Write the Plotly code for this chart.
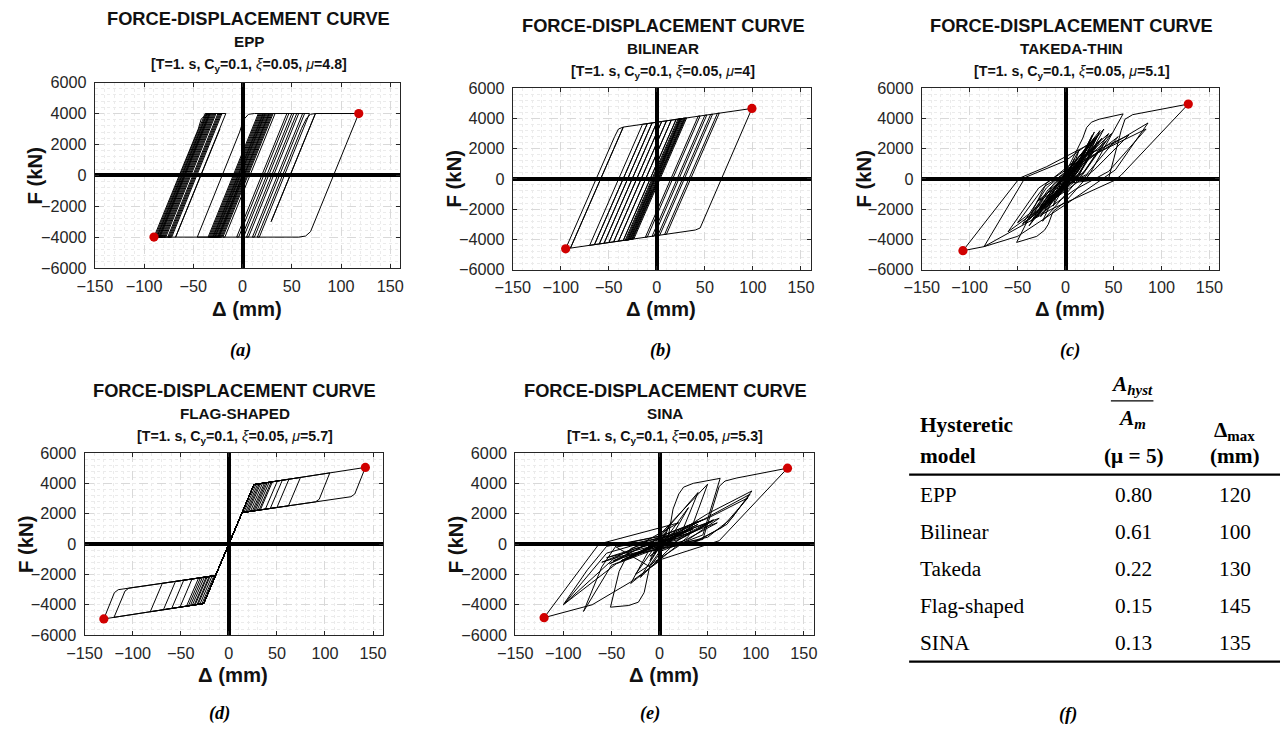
import plotly.graph_objects as go

W, H = 1284, 731
SANS = "Liberation Sans, Arial, Helvetica, sans-serif"
SERIF = "Liberation Serif, Times New Roman, serif"

# ---------------- hysteresis traces: (displacement mm, force kN) vertices ----------------
epp_path = [
    (0, 0), (-25, -4000), (-46, -4000), (-3, 2800), (1, 3600), (6, 3950), (12, 4000),
    (28, 4000), (-23, -4000), (-30, -4000), (21, 4000), (24, 4000),
    (-27, -4000), (-34, -4000), (17, 4000), (22, 4000), (-29, -4000), (-32, -4000),
    (19, 4000), (26, 4000), (-25, -4000), (-28, -4000), (23, 4000), (30, 4000),
    (-21, -4000), (-24, -4000), (27, 4000), (29, 4000), (-22, -4000), (-26, -4000),
    (25, 4000), (27, 4000), (-24, -4000), (-31, -4000), (20, 4000), (23, 4000),
    (-28, -4000), (-33, -4000), (18, 4000), (21, 4000), (-30, -4000), (-35, -4000),
    (16, 4000), (33, 4000), (-18, -4000), (-20, -4000), (31, 4000), (47, 4000),
    (-4, -4000), (-6, -4000), (45, 4000), (52, 4000), (1, -4000), (-1, -4000),
    (50, 4000), (57, 4000), (6, -4000), (4, -4000), (55, 4000), (63, 4000),
    (12, -4000), (10, -4000), (61, 4000), (68, 4000), (17, -4000), (15, -4000),
    (60, 3050), (65, 3700), (69, 3950), (74, 4000), (29, -3000), (74, 4000), (118, 4000),
    (73, -3000), (69, -3650), (64, -3930), (57, -4000), (-90, -4000),
    (-45, 3000), (-42, 3650), (-37, 3930), (-32, 4000), (-22, 4000),
    (-73, -4000), (-76, -4000), (-25, 4000), (-23, 4000), (-74, -4000), (-85, -4000),
    (-34, 4000), (-30, 4000), (-81, -4000), (-83, -4000), (-32, 4000), (-28, 4000),
    (-79, -4000), (-86, -4000), (-35, 4000), (-33, 4000), (-84, -4000), (-88, -4000),
    (-37, 4000), (-36, 4000), (-87, -4000), (-89, -4000), (-38, 4000), (-34, 4000),
    (-85, -4000), (-87, -4000), (-36, 4000), (-31, 4000), (-82, -4000), (-84, -4000),
    (-33, 4000), (-27, 4000), (-78, -4000), (-80, -4000), (-29, 4000), (-21, 4000),
    (-72, -4000), (-75, -4000), (-24, 4000), (-17, 4000), (-68, -4000), (-23, 3000),
]
epp_peaks = [(118, 4000), (-90, -4000)]

bilinear_path = [
    (0, 0), (24, 3971), (27, 3998), (-28, -4008), (-31, -4035), (24, 3971), (26, 3989),
    (-29, -4017), (-33, -4054), (22, 3952), (29, 4017), (-26, -3989), (-30, -4026),
    (25, 3980), (31, 4035), (-24, -3971), (-26, -3989), (29, 4017), (45, 4164),
    (-10, -3842), (-12, -3860), (43, 4146), (52, 4228), (-3, -3778), (-5, -3796),
    (50, 4210), (58, 4284), (3, -3722), (1, -3741), (56, 4265), (65, 4348),
    (10, -3658), (8, -3676), (63, 4330), (99, 4661),
    (48, -2800), (45, -3250), (40, -3382), (-95, -4624),
    (-44, 2800), (-40, 3300), (-35, 3428), (-90, -4578), (-40, 2702), (-90, -4578),
    (-35, 3428), (-10, 3658), (-65, -4348), (-70, -4394), (-15, 3612), (-5, 3704),
    (-60, -4302), (-65, -4348), (-10, 3658), (0, 3750), (-55, -4256), (-60, -4302),
    (-5, 3704), (5, 3796), (-50, -4210), (-55, -4256), (0, 3750), (10, 3842),
    (-45, -4164), (-50, -4210), (5, 3796), (15, 3888), (-40, -4118), (-45, -4164),
    (10, 3842), (20, 3934), (-35, -4072), (-40, -4118), (15, 3888), (25, 3980),
    (-30, -4026), (-35, -4072), (20, 3934), (28, 4008), (-27, -3998), (-32, -4044),
    (23, 3962), (30, 4026), (-25, -3980), (-28, -4008), (-5, -700),
]
bilinear_peaks = [(99, 4661), (-95, -4624)]

takeda_path = [
    (0, 0), (5, 700), (1, 50), (-5, -650), (-1, -50), (9, 1300), (3, 100), (-9, -1200),
    (-3, -150), (14, 1900), (5, 200), (-13, -1800), (-5, -250),
    (18, 2700), (22, 3400), (27, 3750), (35, 3950), (60, 4300),
    (25, 300), (0, -1500), (-13, -2150), (-18, -3000), (-22, -3400), (-30, -3800), (-51, -4200),
    (-20, -300), (10, 1200), (35, 3000),
    (12, 400), (-15, -1300), (-45, -3000),
    (-20, -600), (15, 1300), (45, 3000),
    (20, 500), (-10, -900), (-38, -2700),
    (-12, -300), (20, 1500), (66, 2900),
    (30, 600), (0, -800), (-30, -2100), (-60, -3500),
    (-28, -600), (10, 1000), (84, 3300),
    (45, 500), (10, -700), (-30, -2500),
    (-8, -300), (15, 1500), (40, 3300),
    (15, 400), (-15, -1200), (-50, -2900),
    (-22, -500), (20, 1200), (86, 3700),
    (52, 600), (0, -1700), (-50, -3800), (-85, -4480),
    (-42, 100), (0, 1200), (30, 2600),
    (10, 300), (-25, -1800), (-3, -700), (25, 2000),
    (6, 300), (-35, -2200), (-14, -600), (55, 2800),
    (22, 300), (-30, -1500), (-10, -500), (35, 2500),
    (12, 400), (-20, -1400), (2, -300), (28, 2900),
    (8, 200), (-32, -2600), (-12, -700), (32, 2200),
    (10, 0), (-27, -2300), (-8, -400), (38, 2700),
    (14, 300), (-22, -2000), (-4, -500), (26, 2400),
    (6, 100), (-36, -2800), (-15, -800), (42, 2500),
    (16, 200), (-18, -1700), (0, -400), (30, 3100),
    (10, 300), (-26, -2500), (-6, -600), (20, 1800),
    (5, 300), (-38, -3100), (-16, -900), (36, 3200),
    (14, 200), (-42, -2900), (-18, -700), (48, 3000),
    (18, 300), (-24, -2800), (-6, -300), (33, 2800),
    (2, -300), (45, 50), (58, 3200), (62, 3950), (70, 4250), (128, 4950),
    (58, 250), (51, -100), (-14, -1980), (-85, -4480), (-107, -4750),
    (-48, 50), (-20, 800), (25, 2300), (8, 200), (-28, -2000), (-10, -400), (30, 2700),
    (10, 200), (-20, -1600), (0, -200), (20, 1500), (5, 300), (-10, -900), (2, 0),
]
takeda_peaks = [(128, 4950), (-107, -4750)]

flag_path = [
    (0, 0), (26.1, 3916), (28.2, 3936), (15.7, 2094), (13.85, 2077),
    (-26.1, -3916), (-28, -3934), (-15.5, -2093), (-13.85, -2077),
    (26.1, 3916), (31.6, 3970), (19.1, 2126), (13.85, 2077),
    (-26.1, -3916), (-30, -3954), (-17.5, -2111), (-13.85, -2077),
    (26.1, 3916), (33, 3983), (20.5, 2139), (13.85, 2077),
    (-26.1, -3916), (-32, -3974), (-19.5, -2129), (-13.85, -2077),
    (26.1, 3916), (35, 4003), (22.5, 2157), (13.85, 2077),
    (-26.1, -3916), (-35, -4003), (-22.5, -2157), (-13.85, -2077),
    (26.1, 3916), (37, 4023), (24.5, 2175), (13.85, 2077),
    (-26.1, -3916), (-33, -3983), (-20.5, -2139), (-13.85, -2077),
    (26.1, 3916), (38.5, 4037), (26, 2189), (13.85, 2077),
    (-26.1, -3916), (-36, -4013), (-23.5, -2166), (-13.85, -2077),
    (26.1, 3916), (40, 4052), (27.5, 2203), (13.85, 2077),
    (-26.1, -3916), (-38, -4032), (-25.5, -2185), (-13.85, -2077),
    (26.1, 3916), (41.9, 4071), (29.4, 2220), (13.85, 2077),
    (-26.1, -3916), (-40, -4052), (-27.5, -2203), (-13.85, -2077),
    (26.1, 3916), (44, 4091), (31.5, 2240), (13.85, 2077),
    (-26.1, -3916), (-42, -4072), (-29.5, -2221), (-13.85, -2077),
    (26.1, 3916), (45.3, 4104), (32.8, 2252), (13.85, 2077),
    (-26.1, -3916), (-44, -4091), (-31.5, -2240), (-13.85, -2077),
    (26.1, 3916), (50.5, 4155), (38, 2300), (13.85, 2077),
    (-26.1, -3916), (-50.8, -4158), (-38.3, -2302), (-13.85, -2077),
    (26.1, 3916), (55.6, 4205), (43.1, 2347), (13.85, 2077),
    (-26.1, -3916), (-59.4, -4242), (-46.9, -2381), (-13.85, -2077),
    (26.1, 3916), (62.5, 4273), (50, 2410), (13.85, 2077),
    (-26.1, -3916), (-68, -4326), (-55.5, -2461), (-13.85, -2077),
    (26.1, 3916), (74.5, 4390), (62, 2520), (13.85, 2077),
    (-26.1, -3916), (-81.7, -4461), (-69.2, -2587), (-13.85, -2077),
    (26.1, 3916), (105, 4689), (94, 2950), (90, 2778), (13.85, 2077),
    (-26.1, -3916), (-119.4, -4830), (-108, -3100), (-104, -2907), (-13.85, -2077),
    (26.1, 3916), (142, 5052), (131, 3300), (127, 3118), (13.85, 2077),
    (-26.1, -3916), (-130, -4934), (-119, -3200), (-115, -3008), (-13.85, -2077),
    (26.1, 3916), (30, 3954), (17.5, 2111), (13.85, 2077), (0, 0),
]
flag_peaks = [(142, 5052), (-130, -4934)]

sina_path = [
    (0, 0), (6, 700), (1, 0), (-6, -650), (-1, -20), (10, 1200), (3, 100), (-10, -1100),
    (-3, -100), (8, 100), (14, 2300), (20, 3300), (25, 3750), (35, 4000), (63, 4330),
    (55, 2600), (45, 600), (0, -500), (-10, -1400), (-16, -3200), (-22, -3830),
    (-32, -4050), (-51, -4160),
    (-42, -1800), (-30, -300), (20, 800), (50, 2000), (96, 3500),
    (75, 1700), (50, 450), (-5, -350), (-45, -1300), (-100, -4000),
    (-75, -1700), (-55, -150), (0, 500), (45, 1600), (94, 3280),
    (70, 1300), (40, 200), (-15, -500), (-50, -1400), (-79, -4440),
    (-60, -1500), (-45, -100), (5, 600), (50, 1700), (92, 3050),
    (65, 1100), (35, 100), (-20, -600), (-40, -1100),
    (-30, -900), (30, 900), (-25, -700), (40, 1300), (-35, -1000), (25, 800),
    (-20, -500), (45, 1600), (-40, -1100), (35, 1000), (-15, -400), (50, 3950),
    (30, 500), (-30, -2600), (-10, -300), (40, 3400), (20, 300), (-20, -2200),
    (0, -200), (30, 2400), (10, 200), (-10, -1500),
    (-45, -200), (15, 600), (55, 1500), (20, 300), (-35, -600), (-55, -900),
    (-20, -200), (30, 700), (60, 1400), (25, 200), (-40, -800), (-60, -1200),
    (-25, -300), (25, 500), (50, 1300), (15, 100), (-30, -700), (-48, -1100),
    (-15, -100), (35, 800), (56, 1600), (20, 400), (-38, -900), (-52, -1300),
    (-10, 100), (28, 900), (62, 1700), (30, 300), (-25, -2000), (-5, -200),
    (45, 300), (58, 3000), (62, 3800), (68, 4150), (80, 4350), (133, 5000),
    (62, 220), (3, -985), (-30, -2500), (-70, -4000), (-120, -4850),
    (-63, 0), (-20, 700), (20, 1400), (-48, -985), (-99, -3940),
    (-55, -600), (10, 600), (40, 1500), (-10, -800), (15, 400), (0, 0),
]
sina_peaks = [(133, 5000), (-120, -4850)]

# ---------------- summary table ----------------
table_models = ["EPP", "Bilinear", "Takeda", "Flag-shaped", "SINA"]
table_ratio = ["0.80", "0.61", "0.22", "0.15", "0.13"]
table_dmax = [120, 100, 130, 145, 135]

x_ticks = [-150, -100, -50, 0, 50, 100, 150]
y_ticks = [-6000, -4000, -2000, 0, 2000, 4000, 6000]

# page placement: the graph div sits inside the default 8px body margin and the
# whole page is fitted to the window, so positions are given in window pixels
OFF_X, SC_X = 7.95, 0.9938
OFF_Y, SC_Y = 7.83, 0.9786
FS = 1.015  # font scale that offsets the fit


def pxx(x):
    return (x - OFF_X) / SC_X / W


def pxy(y):
    return 1 - (y - OFF_Y) / SC_Y / H


panels = [
    dict(model="EPP", mu="4.8", path=epp_path, peaks=epp_peaks,
         box=(85.7, 394.3, 81.7, 267.7), ty=(17, 40, 62), tx=241.5,
         ylab=(25, 175), xlab=(240, 309), plab=(233, 350, "(a)")),
    dict(model="BILINEAR", mu="4", path=bilinear_path, peaks=bilinear_peaks,
         box=(508.3, 809.3, 87.3, 269.3), ty=(24, 47.3, 69.3), tx=660.3,
         ylab=(448.3, 178.3), xlab=(658.3, 309.3), plab=(658, 350, "(b)")),
    dict(model="TAKEDA-THIN", mu="5.1", path=takeda_path, peaks=takeda_peaks,
         box=(921.7, 1222.3, 87.3, 269.3), ty=(24, 47.3, 69.3), tx=1073.5,
         ylab=(863.3, 178), xlab=(1072, 309), plab=(1071.7, 350, "(c)")),
    dict(model="FLAG-SHAPED", mu="5.7", path=flag_path, peaks=flag_peaks,
         box=(75.3, 376.7, 453.3, 636), ty=(390.7, 413.3, 435), tx=227,
         ylab=(16.7, 545), xlab=(225.8, 675.7), plab=(212, 715, "(d)")),
    dict(model="SINA", mu="5.3", path=sina_path, peaks=sina_peaks,
         box=(510.7, 812.3, 453.3, 636), ty=(390.7, 413.3, 435), tx=662.6,
         ylab=(451.7, 545), xlab=(661.3, 675.7), plab=(646.7, 715, "(e)")),
]

fig = go.Figure()
annotations = []
shapes = []
layout_axes = {}

tick_font = dict(family=SANS, size=16 * FS, color="#262626")


def ann(x, y, text, size, family=SANS, xanchor="center", color="#111111", textangle=0):
    return dict(x=pxx(x), y=pxy(y), xref="paper", yref="paper", text=text,
                showarrow=False, xanchor=xanchor, yanchor="middle", textangle=textangle,
                font=dict(family=family, size=size * FS, color=color))


for i, p in enumerate(panels, start=1):
    sfx = "" if i == 1 else str(i)
    x0, x1, y0, y1 = p["box"]
    layout_axes["xaxis" + sfx] = dict(
        domain=[pxx(x0), pxx(x1)], anchor="y" + sfx, range=[-150, 160],
        tickmode="array", tickvals=x_ticks, ticks="inside", ticklen=4,
        tickcolor="#262626", showline=True, linecolor="#262626", linewidth=1,
        mirror="ticks", showgrid=True, gridcolor="#d9d9d9", griddash="dash",
        gridwidth=1, zeroline=True, zerolinecolor="black", zerolinewidth=3.6,
        minor=dict(tick0=-150, dtick=10, showgrid=True, gridcolor="#ebebeb",
                   griddash="dot", gridwidth=1),
        tickfont=tick_font, ticklabelstandoff=3, fixedrange=True,
    )
    layout_axes["yaxis" + sfx] = dict(
        domain=[pxy(y1), pxy(y0)], anchor="x" + sfx, range=[-6000, 6000],
        tickmode="array", tickvals=y_ticks, ticks="inside", ticklen=4,
        tickcolor="#262626", showline=True, linecolor="#262626", linewidth=1,
        mirror="ticks", showgrid=True, gridcolor="#d9d9d9", griddash="dash",
        gridwidth=1, zeroline=True, zerolinecolor="black", zerolinewidth=3.6,
        minor=dict(tick0=-6000, dtick=400, showgrid=True, gridcolor="#ebebeb",
                   griddash="dot", gridwidth=1),
        tickfont=tick_font, ticklabelstandoff=4, fixedrange=True,
    )
    xs = [v[0] for v in p["path"]]
    ys = [v[1] for v in p["path"]]
    fig.add_trace(go.Scatter(x=xs, y=ys, mode="lines", xaxis="x" + sfx, yaxis="y" + sfx,
                             line=dict(color="black", width=1), hoverinfo="skip",
                             showlegend=False))
    fig.add_trace(go.Scatter(x=[v[0] for v in p["peaks"]], y=[v[1] for v in p["peaks"]],
                             mode="markers", xaxis="x" + sfx, yaxis="y" + sfx,
                             marker=dict(color="#d10000", size=9.2), showlegend=False))

    annotations.append(ann(p["tx"], p["ty"][0], "<b>FORCE-DISPLACEMENT CURVE</b>", 18))
    annotations.append(ann(p["tx"], p["ty"][1], "<b>%s</b>" % p["model"], 15))
    annotations.append(ann(p["tx"], p["ty"][2] + 2,
                           "<b>[T=1. s, C<sub>y</sub>=0.1, </b><i>ξ</i><b>=0.05, </b>"
                           "<i>μ</i><b>=%s]</b>" % p["mu"], 14))
    annotations.append(ann(p["ylab"][0], p["ylab"][1], "<b>F (kN)</b>", 20, textangle=-90))
    annotations.append(ann(p["xlab"][0], p["xlab"][1], "<b>Δ (mm)</b>", 20))
    annotations.append(ann(p["plab"][0], p["plab"][1], "<b><i>%s</i></b>" % p["plab"][2], 18,
                           family=SERIF, color="black"))

# ---------------- table (f) ----------------
annotations.append(ann(918, 425, "<b>Hysteretic</b>", 21, family=SERIF, xanchor="left", color="black"))
annotations.append(ann(918, 456.7, "<b>model</b>", 21, family=SERIF, xanchor="left", color="black"))
annotations.append(ann(1134, 385, "<b><i>A</i></b><sub><b><i>hyst</i></b></sub>", 21, family=SERIF, color="black"))
annotations.append(ann(1134, 419, "<b><i>A</i></b><sub><b><i>m</i></b></sub>", 21, family=SERIF, color="black"))
annotations.append(ann(1136, 456.7, "<b>(μ = 5)</b>", 21, family=SERIF, color="black"))
annotations.append(ann(1238, 431, "<b>Δ</b><sub><b>max</b></sub>", 21, family=SERIF, color="black"))
annotations.append(ann(1238, 456.7, "<b>(mm)</b>", 21, family=SERIF, color="black"))
row_y = [495, 532.3, 569.3, 606.7, 644]
for name, r, d, yy in zip(table_models, table_ratio, table_dmax, row_y):
    annotations.append(ann(918, yy, name, 21, family=SERIF, xanchor="left", color="black"))
    annotations.append(ann(1136, yy, r, 21, family=SERIF, color="black"))
    annotations.append(ann(1238.5, yy, str(d), 21, family=SERIF, color="black"))
annotations.append(ann(1070, 715.5, "<b><i>(f)</i></b>", 18, family=SERIF, color="black"))

shapes.append(dict(type="line", xref="paper", yref="paper", x0=pxx(1113), x1=pxx(1156),
                   y0=pxy(401), y1=pxy(401), line=dict(color="black", width=1.3)))
for yy in (475, 662.7):
    shapes.append(dict(type="line", xref="paper", yref="paper", x0=pxx(909), x1=pxx(1284),
                       y0=pxy(yy), y1=pxy(yy), line=dict(color="black", width=2.2)))

fig.update_layout(
    width=W, height=H, margin=dict(l=0, r=0, t=0, b=0),
    paper_bgcolor="white", plot_bgcolor="white", showlegend=False,
    annotations=annotations, shapes=shapes, **layout_axes,
)

fig.write_html("out.html", config={"displayModeBar": False})
